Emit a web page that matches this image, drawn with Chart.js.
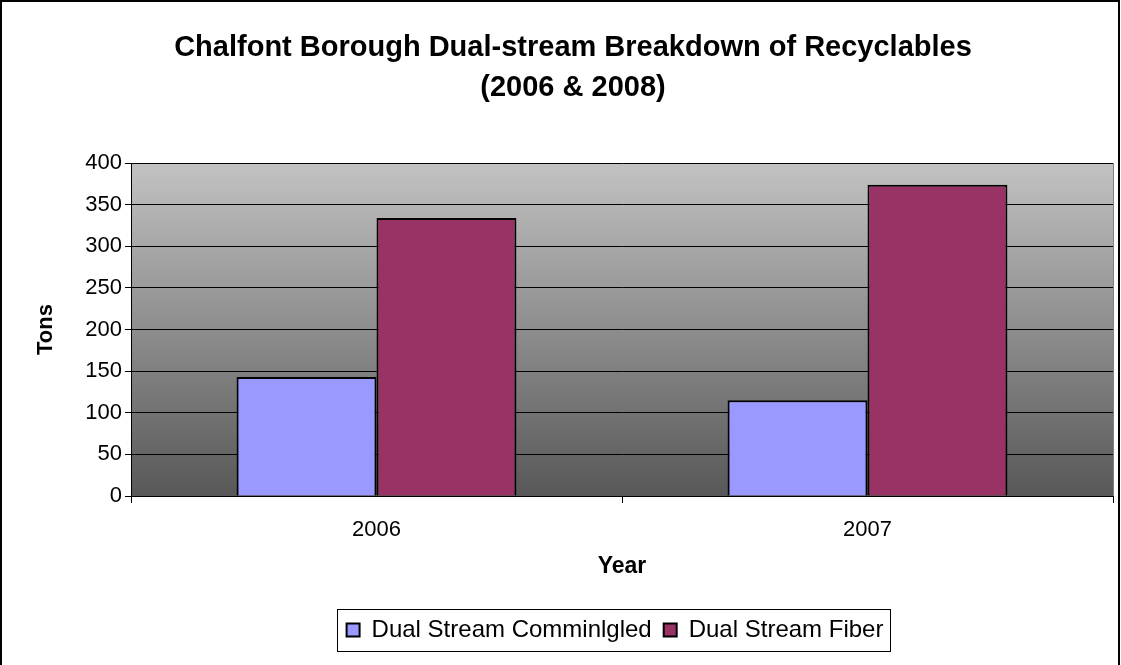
<!DOCTYPE html>
<html>
<head>
<meta charset="utf-8">
<script src="https://cdn.jsdelivr.net/npm/chart.js@4"></script>
<style>
  html, body { margin: 0; padding: 0; background: #fff; }
  #wrap { width: 1121px; height: 665px; }
</style>
</head>
<body>
<div id="wrap"><canvas id="grafico" width="1121" height="665"></canvas></div>
<script>
var anos = ['2006', '2007'];
var commingled = [143, 115];
var fiber = [334, 374];
var ticksY = [0, 50, 100, 150, 200, 250, 300, 350, 400];

var fonte = 'Liberation Sans, Arial, sans-serif';
var deslocLegenda = 42;

var fundo = {
  id: 'fundo',
  beforeDraw: function (chart) {
    var ctx = chart.ctx, a = chart.chartArea;
    ctx.save();
    ctx.fillStyle = '#fff';
    ctx.fillRect(0, 0, chart.width, chart.height);
    var g = ctx.createLinearGradient(0, a.top, 0, a.bottom);
    g.addColorStop(0, '#c2c2c2');
    g.addColorStop(1, '#585858');
    ctx.fillStyle = g;
    ctx.fillRect(a.left, a.top, a.right - a.left, a.bottom - a.top);
    ctx.restore();
    // empurra a legenda para a direita, como no original
    var lg = chart.legend;
    lg.left += deslocLegenda; lg.right += deslocLegenda;
    (lg.legendHitBoxes || []).forEach(function (h) { h.left += deslocLegenda; });
  },
  afterDraw: function (chart) {
    var ctx = chart.ctx, a = chart.chartArea;
    ctx.save();
    // borda direita da area
    ctx.strokeStyle = '#808080';
    ctx.lineWidth = 1;
    ctx.beginPath();
    ctx.moveTo(a.right + 0.5, a.top);
    ctx.lineTo(a.right + 0.5, a.bottom);
    ctx.stroke();
    // moldura externa
    ctx.strokeStyle = '#000';
    ctx.lineWidth = 2;
    ctx.strokeRect(1, 1, chart.width - 3, chart.height + 4);
    // caixa da legenda
    var hb = chart.legend.legendHitBoxes;
    if (hb && hb.length) {
      var x0 = hb[0].left - 10;
      var last = hb[hb.length - 1];
      var x1 = last.left + last.width + 6;
      var yc = hb[0].top + hb[0].height / 2;
      ctx.lineWidth = 1;
      ctx.strokeStyle = '#000';
      ctx.strokeRect(Math.round(x0) + 0.5, Math.round(yc - 21) + 0.5, Math.round(x1 - x0), 42);
    }
    ctx.restore();
  }
};

new Chart(document.getElementById('grafico'), {
  type: 'bar',
  data: {
    labels: anos,
    datasets: [
      { label: 'Dual Stream Comminlgled', data: commingled, backgroundColor: '#9999ff', borderColor: '#000', borderWidth: 2 },
      { label: 'Dual Stream Fiber', data: fiber, backgroundColor: '#993366', borderColor: '#000', borderWidth: 2 }
    ]
  },
  plugins: [fundo],
  options: {
    responsive: false,
    animation: false,
    devicePixelRatio: 1,
    layout: { padding: { left: 33, right: 8, top: 28, bottom: 13 } },
    datasets: { bar: { categoryPercentage: 0.57, barPercentage: 1 } },
    plugins: {
      title: {
        display: true,
        text: ['Chalfont Borough Dual-stream Breakdown of Recyclables', '(2006 & 2008)'],
        color: '#000',
        font: { family: fonte, size: 29, weight: 'bold', lineHeight: 1.38 },
        padding: { top: 0, bottom: 55 }
      },
      legend: {
        position: 'bottom',
        labels: {
          color: '#000',
          boxWidth: 13, boxHeight: 13,
          padding: 12,
          font: { family: fonte, size: 24 }
        }
      },
      tooltip: { enabled: false }
    },
    scales: {
      x: {
        afterFit: function (s) { s.height = 110; },
        grid: { offset: true, drawOnChartArea: false, color: '#000', tickLength: 7 },
        border: { display: true, color: '#000', width: 1 },
        ticks: { color: '#000', padding: 14, font: { family: fonte, size: 22 } },
        title: { display: true, text: 'Year', color: '#000', padding: { top: 0, bottom: 26 }, font: { family: fonte, size: 23, weight: 'bold' } }
      },
      y: {
        min: 0, max: 400,
        afterFit: function (s) { s.width = 98; },
        afterBuildTicks: function (s) { s.ticks = ticksY.map(function (v) { return { value: v }; }); },
        grid: { color: '#000', lineWidth: 1, tickLength: 6 },
        border: { display: true, color: '#000', width: 1 },
        ticks: { color: '#000', padding: 3, font: { family: fonte, size: 22 } },
        title: { display: true, text: 'Tons', color: '#000', padding: 0, font: { family: fonte, size: 22, weight: 'bold' } }
      }
    }
  }
});
</script>
</body>
</html>
